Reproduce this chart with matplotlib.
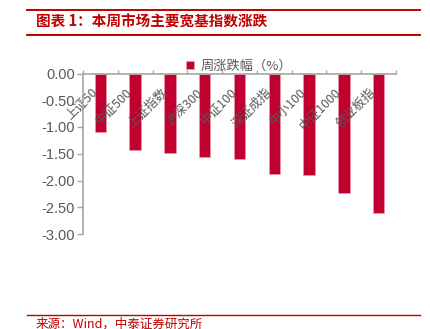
import matplotlib.pyplot as plt
from matplotlib.lines import Line2D
import numpy as np

plt.rcParams['font.family'] = ['Noto Sans CJK SC', 'DejaVu Sans']

# dados
indices = ['上证50', '中证500', '上证指数', '沪深300', '中证100', '深证成指', '中小100', '中证1000', '创业板指']
variacao = [-1.10, -1.43, -1.49, -1.57, -1.60, -1.87, -1.89, -2.23, -2.61]
yticks = [0.0, -0.5, -1.0, -1.5, -2.0, -2.5, -3.0]

vermelho = '#C00000'
barra = '#C0002F'
cinza = '#595959'

fig = plt.figure(figsize=(4.31, 3.29), dpi=100)
ax = fig.add_axes([83/431, 1-234/329, (396-83)/431, (234-73.5)/329])

x = np.arange(len(indices))
ax.bar(x, variacao, width=0.33, color=barra, edgecolor='#E8A0B0', linewidth=0.4,
       label='周涨跌幅（%）')

ax.set_xlim(-0.5, len(indices) - 0.5)
ax.set_ylim(-3.0, 0.0)
ax.set_yticks(yticks)
ax.set_yticklabels([f'{v:.2f}' for v in yticks], fontfamily='Liberation Sans',
                   fontsize=10.5, color=cinza)

ax.spines['top'].set_visible(False)
ax.spines['right'].set_visible(False)
ax.spines['bottom'].set_position(('data', 0))
for s in ['left', 'bottom']:
    ax.spines[s].set_color('#A6A6A6')
    ax.spines[s].set_linewidth(1.2)

ax.tick_params(axis='y', direction='out', length=4, color='#A6A6A6', width=1, pad=2)
ax.set_xticks(x)
ax.set_xticklabels(indices, rotation=45, ha='right', va='top', fontsize=9, color=cinza)
ax.tick_params(axis='x', which='major', length=0, pad=9)
ax.set_xticks(np.arange(-0.5, len(indices) + 0.5, 1), minor=True)
ax.tick_params(axis='x', which='minor', direction='in', length=3, color='#A6A6A6', width=1)

ax.legend(loc='upper center', bbox_to_anchor=(0.5, 1.16), frameon=False, fontsize=9.5,
          handlelength=0.6, handleheight=0.6, handletextpad=0.5, labelcolor=cinza)

# moldura do relatório
fig.add_artist(Line2D([27/431, 420/431], [1-10/329, 1-10/329], color=vermelho, lw=1.4))
fig.add_artist(Line2D([27/431, 420/431], [1-35/329, 1-35/329], color=vermelho, lw=1.4))
fig.add_artist(Line2D([27/431, 420/431], [1-315/329, 1-315/329], color=vermelho, lw=1.0))
fig.text(36/431, 1-22/329, '图表 1：本周市场主要宽基指数涨跌', color=vermelho,
         fontsize=10.5, fontweight='bold', va='center', ha='left')
fig.text(36/431, 1-324/329, '来源：Wind，中泰证券研究所', color=vermelho,
         fontsize=9, va='center', ha='left')

fig.savefig('out.png', dpi=100)
